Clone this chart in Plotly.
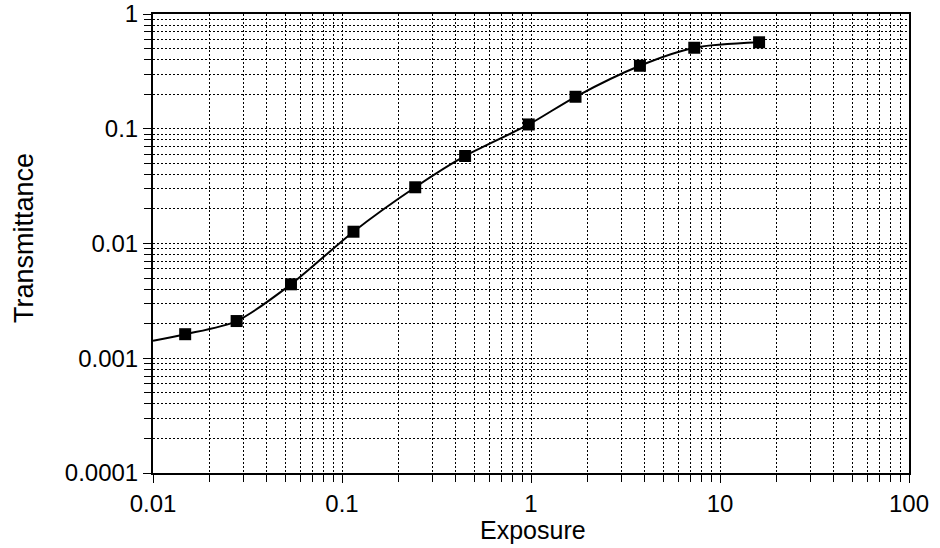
import plotly.graph_objects as go

exposure = [0.0148, 0.0277, 0.0537, 0.115, 0.244, 0.448, 0.973, 1.72, 3.77, 7.31, 16.1]
transmittance = [0.00162, 0.00211, 0.00441, 0.01267, 0.0309, 0.0579, 0.109, 0.190, 0.354, 0.508, 0.567]

# Smooth fitted curve: starts at the left edge of the plot, then follows the points
curve_x = [0.01] + exposure
curve_y = [0.00142] + transmittance

x_tickvals = [0.01, 0.1, 1, 10, 100]
x_ticktext = ["0.01", "0.1", "1", "10", "100"]
y_tickvals = [0.0001, 0.001, 0.01, 0.1, 1]
y_ticktext = ["0.0001", "0.001", "0.01", "0.1", "1"]

x_minor = [m * 10 ** k for k in range(-2, 2) for m in range(2, 10)]
y_minor = [m * 10 ** k for k in range(-4, 0) for m in range(2, 10)]

FONT = "Liberation Sans, Arial, sans-serif"

fig = go.Figure()
fig.add_trace(go.Scatter(
    x=curve_x, y=curve_y, mode="lines",
    line=dict(color="black", width=2, shape="spline", smoothing=0.8),
    hoverinfo="skip", showlegend=False,
))
fig.add_trace(go.Scatter(
    x=exposure, y=transmittance, mode="markers",
    marker=dict(symbol="square", size=12, color="black"),
    showlegend=False,
))

grid_common = dict(
    showgrid=True, gridcolor="black", gridwidth=1, griddash="2px,2px",
    showline=True, linecolor="black", linewidth=2, mirror=True,
    ticks="outside", ticklen=8, tickwidth=1, tickcolor="black",
    tickfont=dict(family=FONT, size=24, color="black"),
    zeroline=False, automargin=False, ticklabeloverflow="allow",
)
minor_common = dict(tickmode="array", ticks="outside", ticklen=7,
                    tickcolor="black", showgrid=True, gridcolor="black",
                    gridwidth=1, griddash="2px,2px")

fig.update_xaxes(
    type="log", range=[-2, 2],
    tickmode="array", tickvals=x_tickvals, ticktext=x_ticktext,
    minor=dict(tickvals=x_minor, **minor_common),
    **grid_common,
)
fig.update_yaxes(
    type="log", range=[-4, 0],
    tickmode="array", tickvals=y_tickvals, ticktext=y_ticktext,
    minor=dict(tickvals=y_minor, **minor_common),
    **grid_common,
)

fig.add_annotation(
    text="Exposure", xref="paper", yref="paper", x=0.5026, y=-0.124,
    xanchor="center", yanchor="middle", showarrow=False,
    font=dict(family=FONT, size=25, color="black"),
)
fig.add_annotation(
    text="Transmittance", xref="paper", yref="paper", x=-0.1706, y=0.512,
    xanchor="center", yanchor="middle", showarrow=False, textangle=-90,
    font=dict(family=FONT, size=27, color="black"),
)

fig.update_layout(
    width=940, height=548,
    margin=dict(l=153, r=31, t=14, b=75),
    paper_bgcolor="white", plot_bgcolor="white",
    font=dict(family=FONT, color="black"),
)

# Remove the page's default body margin so the figure fills the window exactly.
fig.write_html("out.html", config={"displayModeBar": False},
               post_script="document.body.style.margin='0';")
